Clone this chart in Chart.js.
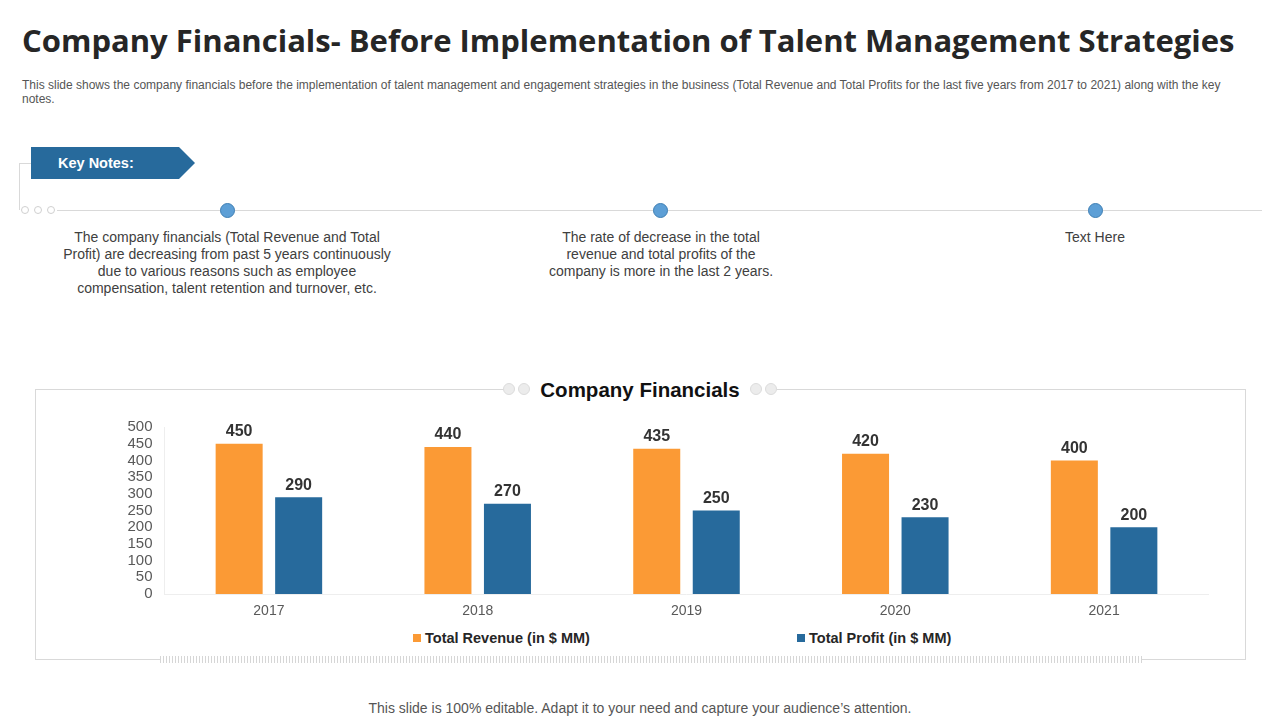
<!DOCTYPE html>
<html>
<head>
<meta charset="utf-8">
<script src="https://cdn.jsdelivr.net/npm/chart.js@4.4.1/dist/chart.umd.min.js"></script>
<style>
  html, body { margin:0; padding:0; background:#fff; }
  body { width:1280px; height:720px; position:relative; overflow:hidden; font-family:"Liberation Sans", Arial, sans-serif; }
  .abs { position:absolute; }
  #title { left:22px; top:19px; font-family:"Open Sans", sans-serif; font-weight:700; font-size:31px; color:#262626; white-space:nowrap; letter-spacing:0px; }
  #sub { left:22px; top:78px; font-size:12px; line-height:14px; color:#555; width:1240px; white-space:nowrap; }
  .note { font-size:14px; line-height:17px; color:#404040; text-align:center; }
  .hline { background:#d9d9d9; height:1px; }
  .vline { background:#d9d9d9; width:1px; }
  .dot { width:6px; height:6px; border:1px solid #d0d0d0; border-radius:50%; background:#fff; }
  .bdot { width:13px; height:13px; border:1px solid #3e7fb4; border-radius:50%; background:#5d9fd6; }
  .gdot { width:10px; height:10px; border:1px solid #dcdcdc; border-radius:50%; background:#ececec; }
  #ctitle { left:510px; width:260px; top:378px; text-align:center; font-size:20.5px; font-weight:700; color:#111; }
  #legend { top:630px; left:0; width:1280px; height:18px; }
  .litem { position:absolute; font-size:14.5px; font-weight:700; color:#262626; white-space:nowrap; }
  .lbox { display:inline-block; width:8px; height:8px; margin-right:4px; vertical-align:1px; }
  #foot { top:700px; left:0; width:1280px; text-align:center; font-size:14px; color:#555; }
  #stripe { left:160px; top:656px; width:982px; height:7px; background:repeating-linear-gradient(90deg, #d6d6d6 0px, #d6d6d6 1px, #fff 1px, #fff 3px); }
</style>
</head>
<body>
<div id="title" class="abs">Company Financials- Before Implementation of Talent Management Strategies</div>
<div id="sub" class="abs">This slide shows the company financials before the implementation of talent management and engagement strategies in the business (Total Revenue and Total Profits for the last five years from 2017 to 2021) along with the key<br>notes.</div>

<!-- Key notes banner -->
<div class="abs vline" style="left:19px; top:163px; height:47px;"></div>
<div class="abs hline" style="left:19px; top:163px; width:12px;"></div>
<svg class="abs" style="left:31px; top:147px;" width="166" height="33">
  <polygon points="0,0 148,0 164,16 148,32 0,32" fill="#276a9c"/>
  <text x="27" y="21" fill="#fff" font-family="Liberation Sans, Arial" font-weight="700" font-size="14.5">Key Notes:</text>
</svg>
<div class="abs dot" style="left:21px; top:206px;"></div>
<div class="abs dot" style="left:34px; top:206px;"></div>
<div class="abs dot" style="left:47px; top:206px;"></div>
<div class="abs hline" style="left:57px; top:210px; width:1205px;"></div>
<div class="abs bdot" style="left:220px; top:203px;"></div>
<div class="abs bdot" style="left:653px; top:203px;"></div>
<div class="abs bdot" style="left:1088px; top:203px;"></div>
<div class="abs note" style="left:57px; width:340px; top:229px;">The company financials (Total Revenue and Total Profit) are decreasing from past 5 years continuously due to various reasons such as employee compensation, talent retention and turnover, etc.</div>
<div class="abs note" style="left:540px; width:242px; top:229px;">The rate of decrease in the total revenue and total profits of the company is more in the last 2 years.</div>
<div class="abs note" style="left:995px; width:200px; top:229px;">Text Here</div>

<!-- Chart box -->
<div class="abs hline" style="left:35px; top:389px; width:470px;"></div>
<div class="abs hline" style="left:777px; top:389px; width:468px;"></div>
<div class="abs vline" style="left:35px; top:389px; height:271px;"></div>
<div class="abs vline" style="left:1245px; top:389px; height:271px;"></div>
<div class="abs hline" style="left:35px; top:659px; width:125px;"></div>
<div class="abs hline" style="left:1142px; top:659px; width:104px;"></div>
<div id="stripe" class="abs"></div>
<div class="abs gdot" style="left:503px; top:383px;"></div>
<div class="abs gdot" style="left:518px; top:383px;"></div>
<div class="abs gdot" style="left:750px; top:383px;"></div>
<div class="abs gdot" style="left:765px; top:383px;"></div>
<div id="ctitle" class="abs">Company Financials</div>

<div class="abs" style="left:100px; top:400px; width:1120px; height:224px;">
  <canvas id="c" width="1120" height="224"></canvas>
</div>
<div id="legend" class="abs"></div>
<div id="foot" class="abs">This slide is 100% editable. Adapt it to your need and capture your audience’s attention.</div>

<script>
const categories = ["2017", "2018", "2019", "2020", "2021"];
const revenue = [450, 440, 435, 420, 400];
const profit = [290, 270, 250, 230, 200];
const seriesNames = ["Total Revenue (in $ MM)", "Total Profit (in $ MM)"];
const seriesColors = ["#fb9a35", "#276a9c"];
const yTicks = [0, 50, 100, 150, 200, 250, 300, 350, 400, 450, 500];

const valueLabels = {
  id: 'valueLabels',
  afterDatasetsDraw(chart) {
    const ctx = chart.ctx;
    ctx.save();
    ctx.font = 'bold 16px "Liberation Sans", Arial, sans-serif';
    ctx.fillStyle = '#333';
    ctx.textAlign = 'center';
    ctx.textBaseline = 'bottom';
    chart.data.datasets.forEach((ds, i) => {
      const meta = chart.getDatasetMeta(i);
      meta.data.forEach((bar, j) => {
        ctx.fillText(String(ds.data[j]), bar.x, bar.y - 4);
      });
    });
    ctx.restore();
  }
};

const chart = new Chart(document.getElementById('c'), {
  type: 'bar',
  data: {
    labels: categories,
    datasets: [
      { label: seriesNames[0], data: revenue, backgroundColor: seriesColors[0], categoryPercentage: 0.57, barPercentage: 0.79 },
      { label: seriesNames[1], data: profit, backgroundColor: seriesColors[1], categoryPercentage: 0.57, barPercentage: 0.79 }
    ]
  },
  options: {
    responsive: false,
    animation: false,
    layout: { padding: { left: 0, right: 11.5, top: 27, bottom: 0 } },
    plugins: { legend: { display: false }, tooltip: { enabled: false } },
    scales: {
      x: {
        grid: { display: false, drawTicks: false },
        border: { display: true, color: '#eeeeee' },
        ticks: { color: '#595959', font: { size: 14, family: '"Liberation Sans", Arial' }, padding: 9 },
        afterFit(s) { s.height = 30; }
      },
      y: {
        min: 0, max: 500,
        afterBuildTicks(s) { s.ticks = yTicks.map(v => ({ value: v })); },
        grid: { display: false, drawTicks: false },
        border: { display: true, color: '#eeeeee' },
        ticks: { autoSkip: false, color: '#595959', font: { size: 15, family: '"Liberation Sans", Arial' }, padding: 12 },
        afterFit(s) { s.width = 64.5; }
      }
    }
  },
  plugins: [valueLabels]
});

// HTML legend built from the series arrays
const legend = document.getElementById('legend');
const legendX = [413, 797];
seriesNames.forEach((name, i) => {
  const d = document.createElement('div');
  d.className = 'litem';
  d.style.left = legendX[i] + 'px';
  d.innerHTML = '<span class="lbox" style="background:' + seriesColors[i] + '"></span>' + name;
  legend.appendChild(d);
});
</script>
</body>
</html>
